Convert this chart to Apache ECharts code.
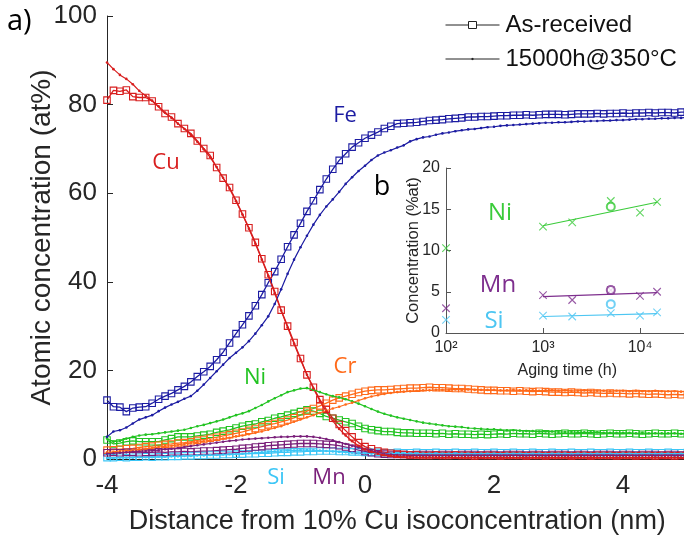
<!DOCTYPE html>
<html>
<head>
<meta charset="utf-8">
<script src="https://cdn.jsdelivr.net/npm/echarts@6/dist/echarts.min.js"></script>
<style>html,body{margin:0;padding:0;background:#fff;}#chart{width:684px;height:537px;}</style>
</head>
<body>
<div id="chart"></div>
<script>
// ---------- Main panel (a) data ----------
const distance = [-4.0,-3.9,-3.8,-3.7,-3.6,-3.5,-3.4,-3.3,-3.2,-3.1,-3.0,-2.9,-2.8,-2.7,-2.6,-2.5,-2.4,-2.3,-2.2,-2.1,
-2.0,-1.9,-1.8,-1.7,-1.6,-1.5,-1.4,-1.3,-1.2,-1.1,-1.0,-0.9,-0.8,-0.7,-0.6,-0.5,-0.4,-0.3,-0.2,-0.1,
0.0,0.1,0.2,0.3,0.4,0.5,0.6,0.7,0.8,0.9,1.0,1.1,1.2,1.3,1.4,1.5,1.6,1.7,1.8,1.9,
2.0,2.1,2.2,2.3,2.4,2.5,2.6,2.7,2.8,2.9,3.0,3.1,3.2,3.3,3.4,3.5,3.6,3.7,3.8,3.9,
4.0,4.1,4.2,4.3,4.4,4.5,4.6,4.7,4.8,4.9,5.0];

const cuAR = [81.0,83.2,83.0,83.3,81.8,81.6,81.6,80.8,79.5,78.0, 77.2,75.7,74.6,73.5,71.8,70.1,68.5,65.8,63.4,61.3,
58.4,55.3,52.2,48.9,45.2,41.6,37.8,33.6,30.0,26.3, 22.7,19.0,16.2,13.4,11.2,9.2,7.8,6.4,5.0,3.7,
2.8,2.3,1.8,1.5,1.3,1.1,1.0,0.9,0.9,0.8, 0.8,0.9,0.8,0.8,0.9,0.8,0.8,0.7,0.8,0.8,
0.8,0.7,0.8,0.8,0.8,0.7,0.8,0.8,0.7,0.8, 0.8,0.8,0.7,0.8,0.8,0.7,0.8,0.8,0.8,0.7,
0.8,0.8,0.7,0.8,0.8,0.7,0.8,0.8,0.7,0.8,0.8];
const cuAged = [89.5,88.0,86.7,85.8,84.6,83.1,82.0,80.9,79.6,78.2, 77.0,75.7,74.5,73.2,71.6,69.9,68.1,65.9,63.5,61.0,
58.2,55.2,52.0,48.6,45.0,41.3,37.4,33.5,29.7,26.0, 22.4,19.0,15.9,13.1,10.7,8.6,6.8,5.3,4.0,3.0,
2.2,1.6,1.2,0.9,0.7,0.6,0.5,0.5,0.4,0.4, 0.4,0.4,0.3,0.4,0.3,0.3,0.3,0.3,0.3,0.3,
0.3,0.3,0.3,0.3,0.3,0.3,0.3,0.3,0.3,0.3, 0.3,0.3,0.3,0.3,0.3,0.3,0.3,0.3,0.3,0.3,
0.3,0.3,0.3,0.3,0.3,0.3,0.3,0.3,0.3,0.3,0.3];
const feAR = [13.3,11.8,11.7,10.7,11.5,11.7,11.8,12.6,13.5,14.2, 14.8,15.6,16.4,17.4,18.6,19.7,20.9,22.4,24.1,26.2,
28.3,30.3,32.3,34.6,37.1,39.8,42.3,45.1,47.9,50.6, 53.2,55.9,58.3,60.8,63.2,65.4,67.4,68.9,70.4,71.4,
72.4,73.1,73.8,74.6,75.1,75.7,75.8,75.9,76.0,76.2, 76.4,76.5,76.6,76.8,76.9,77.0,77.2,77.2,77.3,77.3,
77.4,77.5,77.5,77.6,77.6,77.7,77.6,77.7,77.8,77.8, 77.8,77.7,77.8,77.9,77.9,77.9,78.0,77.9,78.0,78.0,
78.1,78.0,78.1,78.1,78.2,78.1,78.2,78.2,78.1,78.3,78.3];
const feAged = [5.0,6.2,6.5,7.1,8.0,8.9,9.4,9.9,10.8,11.6, 12.3,12.9,13.6,14.2,15.4,16.8,18.3,19.8,21.3,22.8,
24.0,25.2,26.6,28.3,30.2,32.2,35.0,38.3,41.8,45.0, 47.8,50.4,52.9,55.1,57.0,58.6,60.3,62.1,63.6,65.0,
66.2,67.5,68.5,69.2,69.7,70.3,70.8,71.7,72.2,72.6, 72.8,73.2,73.5,73.7,74.0,74.2,74.4,74.5,74.7,74.9,
75.0,75.2,75.3,75.4,75.5,75.6,75.7,75.8,75.9,75.9, 76.0,76.0,76.1,76.2,76.2,76.3,76.3,76.4,76.4,76.5,
76.5,76.6,76.7,76.7,76.8,76.8,76.9,76.9,77.0,77.0,77.1];
const niAR = [4.3,3.4,3.6,3.9,4.1,3.9,3.9,3.9,3.9,4.3, 4.6,5.0,5.0,5.0,5.2,5.4,5.6,6.0,6.3,6.6,
7.0,7.4,7.7,7.9,8.4,8.7,9.2,9.5,9.9,10.3, 10.7,11.1,10.8,10.3,9.6,9.2,8.8,8.4,8.0,7.4,
6.9,6.6,6.4,6.2,6.2,6.0,5.9,5.9,5.8,5.8, 5.8,5.7,5.8,5.6,5.7,5.6,5.6,5.5,5.6,5.5,
5.6,5.7,5.6,5.8,5.7,5.7,5.6,5.8,5.7,5.6, 5.7,5.8,5.7,5.7,5.8,5.7,5.6,5.7,5.8,5.7,
5.7,5.8,5.7,5.6,5.7,5.8,5.7,5.7,5.8,5.7,5.7];
const niAged = [4.6,3.9,4.1,4.6,5.0,5.3,5.5,5.6,5.8,6.0, 6.2,6.4,6.6,7.0,7.4,7.7,8.1,8.5,8.9,9.4,
9.9,10.3,10.8,11.5,12.2,13.0,13.7,14.4,15.1,15.5, 15.9,16.0,15.6,15.1,14.6,14.2,13.9,13.5,13.0,12.5,
11.9,11.3,10.7,10.2,9.8,9.4,9.1,8.8,8.5,8.2, 8.0,7.8,7.6,7.4,7.3,7.2,7.0,6.9,6.8,6.7,
6.7,6.6,6.5,6.5,6.4,6.3,6.3,6.2,6.2,6.2, 6.1,6.1,6.1,6.0,6.0,6.0,6.0,5.9,5.9,5.9,
5.9,5.9,5.8,5.9,5.8,5.8,5.8,5.8,5.8,5.7,5.8];
const crAR = [2.0,2.1,2.2,2.3,2.4,2.6,2.8,2.9,3.1,3.3, 3.4,3.6,3.7,3.9,4.2,4.4,4.7,4.9,5.2,5.5,
5.8,6.1,6.5,6.9,7.3,7.7,8.0,8.4,8.8,9.3, 9.9,10.8,11.4,12.0,12.6,13.3,13.8,14.2,14.6,15.0,
15.3,15.5,15.6,15.6,15.7,15.8,15.9,16.0,16.0,16.1, 16.2,16.1,16.1,16.0,15.9,15.9,15.8,15.7,15.6,15.5,
15.5,15.4,15.4,15.3,15.4,15.3,15.2,15.3,15.2,15.1, 15.1,15.0,15.1,15.0,14.9,15.0,14.9,14.8,14.9,14.8,
14.8,14.7,14.8,14.7,14.6,14.7,14.6,14.5,14.6,14.5,14.5];
const crAged = [1.5,1.6,1.8,1.9,2.0,2.2,2.3,2.5,2.7,2.9, 3.0,3.2,3.4,3.6,3.8,4.0,4.2,4.4,4.6,4.8,
5.1,5.3,5.6,5.9,6.2,6.6,7.0,7.4,7.9,8.4, 8.9,9.4,9.9,10.4,10.9,11.4,11.8,12.3,12.7,13.2,
13.7,14.1,14.4,14.7,14.9,15.1,15.2,15.3,15.4,15.5, 15.5,15.6,15.6,15.6,15.7,15.6,15.7,15.6,15.6,15.6,
15.6,15.5,15.5,15.6,15.5,15.5,15.5,15.4,15.5,15.5, 15.4,15.5,15.4,15.4,15.5,15.4,15.4,15.4,15.3,15.4,
15.4,15.3,15.4,15.3,15.3,15.4,15.3,15.3,15.3,15.2,15.3];
const mnAR = [1.4,1.5,1.4,1.5,1.5,1.4,1.5,1.5,1.6,1.5, 1.6,1.6,1.7,1.6,1.7,1.8,1.8,1.9,2.0,2.1,
2.2,2.4,2.5,2.7,2.8,3.0,3.1,3.2,3.3,3.4, 3.5,3.5,3.5,3.4,3.3,3.2,3.0,2.7,2.4,2.0,
1.7,1.4,1.2,1.1,1.0,1.0,1.0,0.9,1.0,1.0, 1.0,0.9,1.0,1.0,0.9,1.0,1.0,1.0,0.9,1.0,
1.0,0.9,1.0,1.0,1.0,0.9,1.0,1.0,0.9,1.0, 1.0,1.0,0.9,1.0,1.0,0.9,1.0,1.0,1.0,0.9,
1.0,1.0,0.9,1.0,1.0,1.0,0.9,1.0,1.0,0.9,1.0];
const mnAged = [1.2,1.3,1.4,1.5,1.6,1.7,1.8,1.9,2.0,2.2, 2.3,2.5,2.7,2.9,3.1,3.3,3.5,3.7,3.9,4.1,
4.2,4.4,4.5,4.6,4.7,4.8,4.9,5.0,5.0,5.1, 5.1,5.1,5.0,4.8,4.5,4.2,3.8,3.4,3.0,2.6,
2.2,1.9,1.5,1.2,1.0,0.9,0.9,0.8,0.8,0.8, 0.8,0.8,0.8,0.8,0.8,0.8,0.8,0.8,0.8,0.8,
0.8,0.8,0.8,0.8,0.8,0.8,0.8,0.8,0.8,0.8, 0.8,0.8,0.8,0.8,0.8,0.8,0.8,0.8,0.8,0.8,
0.8,0.8,0.8,0.8,0.8,0.8,0.8,0.8,0.8,0.8,0.8];
const siAR = [0.3,0.3,0.4,0.3,0.4,0.4,0.5,0.4,0.5,0.5, 0.6,0.6,0.7,0.7,0.8,0.8,0.9,0.9,1.0,1.0,
1.1,1.1,1.2,1.2,1.3,1.3,1.4,1.5,1.5,1.6, 1.6,1.7,1.7,1.8,1.8,1.8,1.7,1.7,1.6,1.6,
1.5,1.5,1.5,1.4,1.4,1.5,1.4,1.4,1.5,1.4, 1.4,1.5,1.4,1.4,1.5,1.4,1.4,1.5,1.4,1.4,
1.5,1.4,1.4,1.5,1.4,1.4,1.5,1.4,1.4,1.5, 1.4,1.4,1.5,1.4,1.4,1.5,1.4,1.4,1.5,1.4,
1.4,1.5,1.4,1.4,1.5,1.4,1.4,1.5,1.4,1.4,1.5];
const siAged = [0.2,0.2,0.3,0.3,0.3,0.4,0.4,0.4,0.5,0.5, 0.6,0.6,0.7,0.7,0.8,0.8,0.9,0.9,1.0,1.1,
1.1,1.2,1.3,1.4,1.5,1.6,1.7,1.8,1.9,1.9, 2.0,2.0,2.0,1.9,1.8,1.7,1.6,1.5,1.4,1.3,
1.3,1.2,1.2,1.2,1.2,1.2,1.2,1.2,1.2,1.2, 1.2,1.2,1.2,1.2,1.2,1.2,1.2,1.2,1.2,1.2,
1.2,1.2,1.2,1.2,1.2,1.2,1.2,1.2,1.2,1.2, 1.2,1.2,1.2,1.2,1.2,1.2,1.2,1.2,1.2,1.2,
1.2,1.2,1.2,1.2,1.2,1.2,1.2,1.2,1.2,1.2,1.2];

const mainXTicks = [-4, -2, 0, 2, 4];
const mainYTicks = [0, 20, 40, 60, 80, 100];

// ---------- Inset panel (b) data ----------
const agingHours = [100, 1000, 2000, 5000, 10000, 15000];
const niInset = [10.3, 12.9, 13.4, 16.0, 14.6, 15.9];
const mnInset = [3.0, 4.6, 4.0, 5.2, 4.5, 5.0];
const siInset = [1.6, 2.1, 2.0, 2.4, 2.1, 2.5];
const circleHours = [5000];
const niCircle = [15.3];
const mnCircle = [5.2];
const siCircle = [3.5];
const fitHours = [1000, 15000];
const niFit = [13.0, 15.85];
const mnFit = [4.4, 4.9];
const siFit = [2.0, 2.35];

// ---------- styling ----------
const C = {Cu:'#D81E1E', Fe:'#1C1CA2', Ni:'#22C322', Cr:'#FF6A1A', Mn:'#7A1F7A', Si:'#3CC6F6'};
const iC = {Ni:'#3ACB3A', Mn:'#7E2F8E', Si:'#4DC6F2'};
const AX = '#262626';
const FONT = "'Liberation Sans', Arial, sans-serif";
const LFONT = "'Open Sans', 'Noto Sans', sans-serif";

const pairs = (xs, ys) => xs.map((x, i) => [x, ys[i]]);

function arSeries(arr, color) {
  return {type:'line', xAxisIndex:0, yAxisIndex:0, data:pairs(distance, arr),
    symbol:'rect', symbolSize:6.5, showAllSymbol:true,
    lineStyle:{color:color, width:1.3},
    itemStyle:{color:'rgba(255,255,255,0)', borderColor:color, borderWidth:1.1},
    emphasis:{disabled:true}, silent:true, z:3};
}
function agedSeries(arr, color) {
  return {type:'line', xAxisIndex:0, yAxisIndex:0, data:pairs(distance, arr),
    symbol:'circle', symbolSize:2.6, showAllSymbol:true,
    lineStyle:{color:color, width:1.2},
    itemStyle:{color:color, borderWidth:0},
    emphasis:{disabled:true}, silent:true, z:4};
}
const crossPath = 'path://M0,0L10,10M10,0L0,10';
function crossSeries(ys, color) {
  return {type:'scatter', xAxisIndex:1, yAxisIndex:1, data:pairs(agingHours, ys),
    symbol:crossPath, symbolSize:7.5,
    itemStyle:{color:'rgba(0,0,0,0)', borderColor:color, borderWidth:1.1}, silent:true, z:5};
}
function circleSeries(ys, color) {
  return {type:'scatter', xAxisIndex:1, yAxisIndex:1, data:pairs(circleHours, ys),
    symbol:'emptyCircle', symbolSize:8,
    itemStyle:{color:color, borderColor:color, borderWidth:1.1}, silent:true, z:5};
}
function fitSeries(ys, color) {
  return {type:'line', xAxisIndex:1, yAxisIndex:1, data:pairs(fitHours, ys),
    symbol:'none', lineStyle:{color:color, width:1.2}, silent:true, z:4};
}

const chart = echarts.init(document.getElementById('chart'), null, {renderer:'canvas'});

const option = {
  animation:false,
  backgroundColor:'#ffffff',
  legend:{
    data:[
      {name:'As-received', icon:'path://M0,4L23,4M31,4L54,4M23,0.5L31,0.5L31,7.5L23,7.5Z',
        itemStyle:{color:'rgba(0,0,0,0)', borderColor:'#222', borderWidth:1}},
      {name:'15000h@350°C', icon:'path://M0,4L54,4M26.4,3.4L27.6,3.4L27.6,4.6L26.4,4.6Z',
        itemStyle:{color:'#222', borderColor:'#222', borderWidth:1}}
    ],
    orient:'vertical', left:440, top:8, itemWidth:54, itemHeight:8, itemGap:10,
    textStyle:{fontFamily:FONT, fontSize:24, color:'#111', padding:[0,0,0,1]},
    selectedMode:false
  },
  grid:[
    {left:107, top:16, right:-3.5, bottom:78, outerBoundsMode:'none', containLabel:false},
    {left:446, top:168, right:-4.5, bottom:204, outerBoundsMode:'none', containLabel:false}
  ],
  xAxis:[
    {type:'value', gridIndex:0, min:-4, max:5, interval:2,
      axisLine:{show:true, onZero:false, lineStyle:{color:AX, width:1}},
      axisTick:{show:true, inside:true, length:6, lineStyle:{color:AX}},
      axisLabel:{fontFamily:FONT, fontSize:26, color:AX, margin:14, showMaxLabel:false,
        formatter:v => mainXTicks.includes(v) ? String(v) : ''},
      splitLine:{show:false},
      name:'Distance from 10% Cu isoconcentration (nm)', nameLocation:'middle', nameGap:49, nameMoveOverlap:false,
      nameTextStyle:{fontFamily:FONT, fontSize:27, color:AX}},
    {type:'log', gridIndex:1, logBase:10, min:100, max:31623,
      axisLine:{show:true, onZero:false, lineStyle:{color:'#555', width:1}},
      axisTick:{show:true, inside:true, length:5, lineStyle:{color:'#555'}},
      axisLabel:{fontFamily:FONT, fontSize:16, color:AX, margin:7, showMaxLabel:false,
        formatter:v => {const e = Math.round(Math.log10(v)); return Math.abs(Math.log10(v)-e)<1e-6 ? '10' + ({2:'²',3:'³',4:'⁴'}[e]||'') : '';}},
      splitLine:{show:false},
      name:'Aging time (h)', nameLocation:'middle', nameGap:30, nameMoveOverlap:false,
      nameTextStyle:{fontFamily:FONT, fontSize:16, color:AX}}
  ],
  yAxis:[
    {type:'value', gridIndex:0, min:0, max:100, interval:20,
      axisLine:{show:true, onZero:false, lineStyle:{color:AX, width:1}},
      axisTick:{show:true, inside:true, length:6, lineStyle:{color:AX}},
      axisLabel:{fontFamily:FONT, fontSize:26, color:AX, margin:10,
        formatter:v => mainYTicks.includes(v) ? String(v) : ''},
      splitLine:{show:false},
      name:'Atomic concentration (at%)', nameLocation:'middle', nameGap:51, nameRotate:90, nameMoveOverlap:false,
      nameTextStyle:{fontFamily:FONT, fontSize:28, color:AX}},
    {type:'value', gridIndex:1, min:0, max:20, interval:5,
      axisLine:{show:true, onZero:false, lineStyle:{color:'#555', width:1}},
      axisTick:{show:true, inside:true, length:5, lineStyle:{color:'#555'}},
      axisLabel:{fontFamily:FONT, fontSize:16, color:AX, margin:6},
      splitLine:{show:false},
      name:'Concentration (%at)', nameLocation:'middle', nameGap:24, nameRotate:90, nameMoveOverlap:false,
      nameTextStyle:{fontFamily:FONT, fontSize:16.5, color:AX}}
  ],
  series:[
    // legend-only series
    {name:'As-received', type:'line', data:[], symbol:'none', lineStyle:{color:'#222', width:1}, itemStyle:{color:'#222'}},
    {name:'15000h@350°C', type:'line', data:[], symbol:'none', lineStyle:{color:'#222', width:1}, itemStyle:{color:'#222'}},
    arSeries(siAR, C.Si), agedSeries(siAged, C.Si),
    arSeries(niAR, C.Ni), agedSeries(niAged, C.Ni),
    arSeries(crAR, C.Cr), agedSeries(crAged, C.Cr),
    arSeries(feAR, C.Fe), agedSeries(feAged, C.Fe),
    arSeries(mnAR, C.Mn), agedSeries(mnAged, C.Mn),
    arSeries(cuAR, C.Cu), agedSeries(cuAged, C.Cu),
    fitSeries(niFit, iC.Ni), fitSeries(mnFit, iC.Mn), fitSeries(siFit, iC.Si),
    crossSeries(niInset, iC.Ni), crossSeries(mnInset, iC.Mn), crossSeries(siInset, iC.Si),
    circleSeries(niCircle, iC.Ni), circleSeries(mnCircle, iC.Mn), circleSeries(siCircle, iC.Si)
  ],
  graphic:[
    {type:'text', x:7, y:22, style:{text:'a)', font:"29px "+LFONT, fill:'#000', align:'left', verticalAlign:'middle'}},
    {type:'text', x:166, y:163, style:{text:'Cu', font:"22px "+LFONT, fill:C.Cu, align:'center', verticalAlign:'middle'}},
    {type:'text', x:345, y:116, style:{text:'Fe', font:"22px "+LFONT, fill:C.Fe, align:'center', verticalAlign:'middle'}},
    {type:'text', x:255, y:378, style:{text:'Ni', font:"22px "+LFONT, fill:C.Ni, align:'center', verticalAlign:'middle'}},
    {type:'text', x:345, y:367, style:{text:'Cr', font:"22px "+LFONT, fill:C.Cr, align:'center', verticalAlign:'middle'}},
    {type:'text', x:276, y:478, style:{text:'Si', font:"22px "+LFONT, fill:C.Si, align:'center', verticalAlign:'middle'}},
    {type:'text', x:329, y:478, style:{text:'Mn', font:"22px "+LFONT, fill:C.Mn, align:'center', verticalAlign:'middle'}},
    {type:'text', x:382, y:187, style:{text:'b', font:"27px "+LFONT, fill:'#000', align:'center', verticalAlign:'middle'}},
    {type:'text', x:500, y:213, style:{text:'Ni', font:"24px "+LFONT, fill:iC.Ni, align:'center', verticalAlign:'middle'}},
    {type:'text', x:498, y:285, style:{text:'Mn', font:"24px "+LFONT, fill:iC.Mn, align:'center', verticalAlign:'middle'}},
    {type:'text', x:494, y:321, style:{text:'Si', font:"24px "+LFONT, fill:iC.Si, align:'center', verticalAlign:'middle'}}
  ]
};
chart.setOption(option);
</script>
</body>
</html>
